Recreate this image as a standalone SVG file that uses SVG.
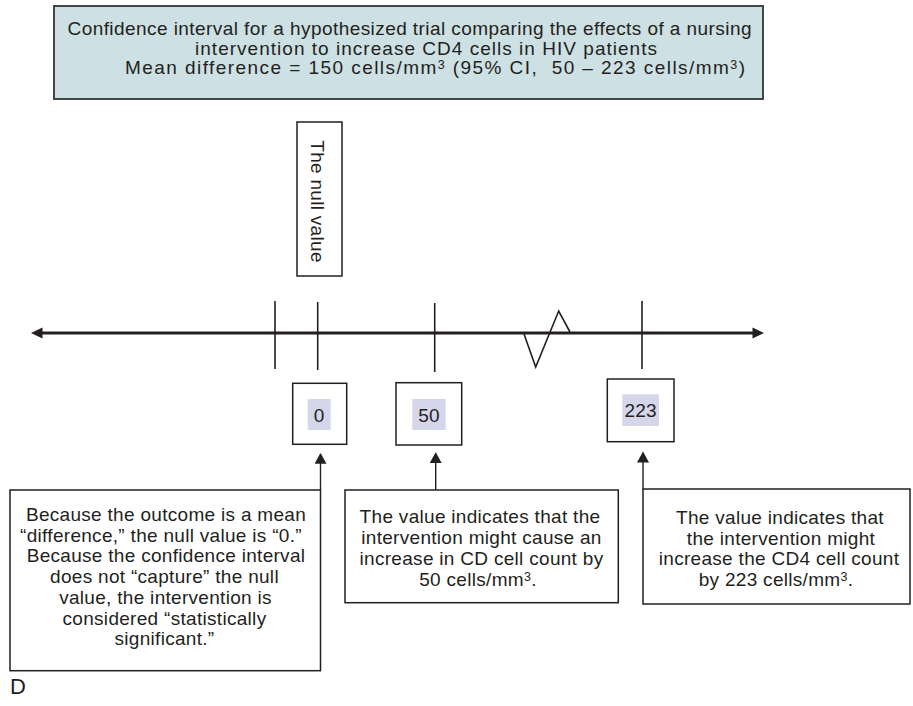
<svg xmlns="http://www.w3.org/2000/svg" width="913" height="706" viewBox="0 0 913 706">
  <style>
    text { font-family: "Liberation Sans", Arial, Helvetica, sans-serif; font-size: 19px; fill: #231f20; letter-spacing: 0.3px; }
    .mid { text-anchor: middle; }
    .head { font-size: 19px; letter-spacing: 0; }
    .box { fill: #ffffff; stroke: #231f20; stroke-width: 1.5; }
    .title { fill: #cde0e3; stroke: #333333; stroke-width: 1.8; }
    .hl { fill: #d6d6ea; }
    .tick { stroke: #231f20; stroke-width: 1.6; fill: none; }
    .link { stroke: #231f20; stroke-width: 1.4; fill: none; marker-end: url(#head); }
    .sup { font-size: 12.5px; }
  </style>
  <defs>
    <marker id="head" markerUnits="userSpaceOnUse" markerWidth="12" markerHeight="12" viewBox="0 0 10 11" refX="9" refY="5.5" orient="auto">
      <path d="M0,0 L10,5.5 L0,11 z" fill="#231f20"/>
    </marker>
  </defs>

  <rect width="913" height="706" fill="#ffffff"/>

  <!-- heading panel -->
  <g id="title">
    <rect class="title" x="54" y="6" width="709" height="93"/>
    <text class="mid head" x="409.5" y="35" textLength="684" lengthAdjust="spacing">Confidence interval for a hypothesized trial comparing the effects of a nursing</text>
    <text class="mid head" x="426" y="54.5" textLength="462" lengthAdjust="spacing">intervention to increase CD4 cells in HIV patients</text>
    <text class="mid head" x="435" y="74" textLength="620" lengthAdjust="spacing" style="white-space:pre">Mean difference = 150 cells/mm<tspan class="sup" dy="-5">3</tspan><tspan dy="5"> (95% CI,  50 – 223 cells/mm</tspan><tspan class="sup" dy="-5">3</tspan><tspan dy="5">)</tspan></text>
  </g>

  <!-- vertical label over the zero tick -->
  <g id="null-label">
    <rect class="box" x="297" y="122" width="45" height="154"/>
    <text class="mid" transform="translate(311,201.5) rotate(90)">The null value</text>
  </g>

  <!-- number line with ticks and axis break -->
  <g id="axis">
    <line x1="40" y1="333" x2="754" y2="333" stroke="#231f20" stroke-width="3"/>
    <polygon points="31,333 42.5,327.5 42.5,338.5" fill="#231f20"/>
    <polygon points="764,333 752.5,327.5 752.5,338.5" fill="#231f20"/>
    <line class="tick" x1="275" y1="301" x2="275" y2="369"/>
    <line class="tick" x1="317.7" y1="302" x2="317.7" y2="370"/>
    <line class="tick" x1="434.7" y1="303" x2="434.7" y2="372"/>
    <line class="tick" x1="642" y1="301" x2="642" y2="369"/>
    <polyline class="tick" stroke-width="1.4" points="524,334 535.7,367 558.7,311 570,332"/>
  </g>

  <!-- value boxes -->
  <g id="value-0">
    <rect class="box" x="292.7" y="383.3" width="54" height="61"/>
    <rect class="hl" x="307.7" y="399" width="23" height="31"/>
    <text class="mid" x="319.2" y="421.5">0</text>
  </g>
  <g id="value-50">
    <rect class="box" x="396" y="382.7" width="65.7" height="62.3"/>
    <rect class="hl" x="412.3" y="399" width="33.4" height="31"/>
    <text class="mid" x="429" y="421.5">50</text>
  </g>
  <g id="value-223">
    <rect class="box" x="607.3" y="379" width="66.7" height="62.7"/>
    <rect class="hl" x="622.3" y="394.3" width="36.7" height="31.7"/>
    <text class="mid" x="640.7" y="416.5">223</text>
  </g>

  <!-- explanatory notes -->
  <g id="note-null">
    <rect class="box" x="10" y="490" width="310.5" height="180.7"/>
    <text class="mid" x="166" y="520.7">Because the outcome is a mean</text>
    <text class="mid" x="161" y="541.5">“difference,” the null value is “0.”</text>
    <text class="mid" x="166" y="562.3">Because the confidence interval</text>
    <text class="mid" x="164.5" y="583">does not “capture” the null</text>
    <text class="mid" x="165.5" y="603.8">value, the intervention is</text>
    <text class="mid" x="164.5" y="624.6">considered “statistically</text>
    <text class="mid" x="164.5" y="645.4">significant.”</text>
  </g>
  <g id="note-lower">
    <rect class="box" x="345" y="490" width="273.3" height="112.7"/>
    <text class="mid" x="480" y="523">The value indicates that the</text>
    <text class="mid" x="481.5" y="544">intervention might cause an</text>
    <text class="mid" x="481.5" y="565">increase in CD cell count by</text>
    <text class="mid" x="478" y="586">50 cells/mm<tspan class="sup" dy="-5">3</tspan><tspan dy="5">.</tspan></text>
  </g>
  <g id="note-upper">
    <rect class="box" x="643" y="489" width="267" height="115"/>
    <text class="mid" x="780" y="524">The value indicates that</text>
    <text class="mid" x="781" y="544.5">the intervention might</text>
    <text class="mid" x="779" y="565">increase the CD4 cell count</text>
    <text class="mid" x="776" y="585.5">by 223 cells/mm<tspan class="sup" dy="-5">3</tspan><tspan dy="5">.</tspan></text>
  </g>

  <!-- pointers from notes to values -->
  <g id="connectors">
    <line class="link" x1="320.5" y1="490" x2="320.5" y2="454"/>
    <line class="link" x1="435.7" y1="490" x2="435.7" y2="453.3"/>
    <line class="link" x1="643" y1="489" x2="643" y2="452.7"/>
  </g>

  <text x="10" y="694" style="font-size:22px">D</text>
</svg>
